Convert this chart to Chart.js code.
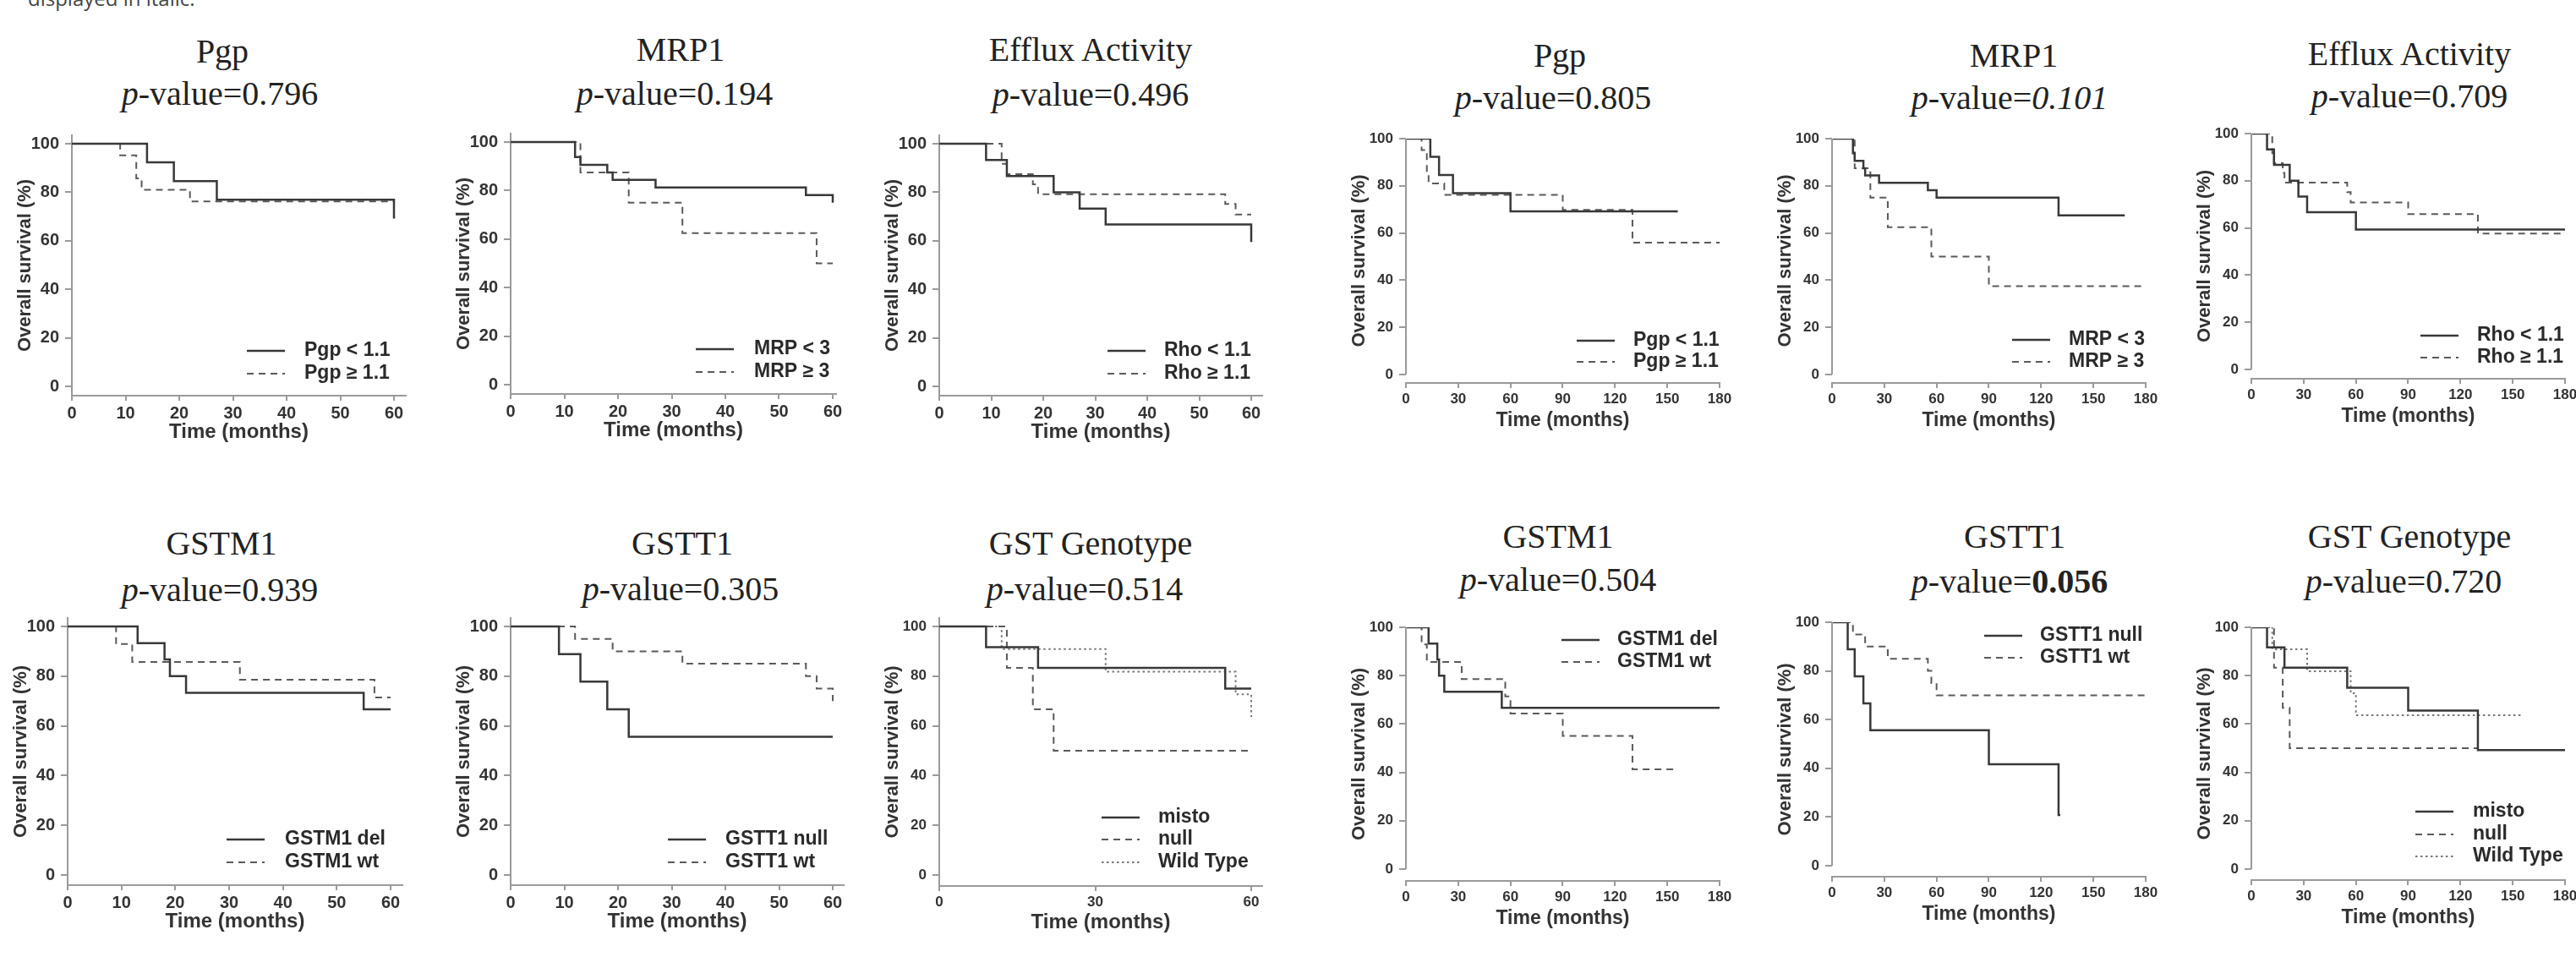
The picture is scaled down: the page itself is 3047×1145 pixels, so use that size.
<!DOCTYPE html>
<html>
<head>
<meta charset="utf-8">
<script src="https://cdn.jsdelivr.net/npm/chart.js@4.4.1/dist/chart.umd.min.js"></script>
<style>
  body { margin: 0; width: 3047px; height: 1145px; overflow: hidden; background: #fff; position: relative; }
  .ttl { position: absolute; font-family: "Liberation Serif", "Times New Roman", serif; font-size: 40px; line-height: 40px;
         color: #222; white-space: nowrap; transform: translateX(-50%); }
  .cut { position: absolute; left: 33px; top: -14px; font-family: "Open Sans", sans-serif; font-size: 24px; line-height: 24px; color: #444; }
</style>
</head>
<body>
<div class="cut">displayed in italic.</div>
<script>
// tick values
const yTicks = [0, 20, 40, 60, 80, 100];
const xTicks60 = [0, 10, 20, 30, 40, 50, 60];
const xTicks60Coarse = [0, 30, 60];
const xTicks180 = [0, 30, 60, 90, 120, 150, 180];

// titles and p-values, row by row
const titles = ['Pgp', 'MRP1', 'Efflux Activity', 'Pgp', 'MRP1', 'Efflux Activity',
                'GSTM1', 'GSTT1', 'GST Genotype', 'GSTM1', 'GSTT1', 'GST Genotype'];
const pValues = ['0.796', '0.194', '0.496', '0.805', '0.101', '0.709',
                 '0.939', '0.305', '0.514', '0.504', '0.056', '0.720'];

// legend labels
const pgpLabels = ['Pgp < 1.1', 'Pgp \u2265 1.1'];
const mrpLabels = ['MRP < 3', 'MRP \u2265 3'];
const rhoLabels = ['Rho < 1.1', 'Rho \u2265 1.1'];
const gstmLabels = ['GSTM1 del', 'GSTM1 wt'];
const gsttLabels = ['GSTT1 null', 'GSTT1 wt'];
const gstLabels = ['misto', 'null', 'Wild Type'];

// survival curves: [month, overall survival %]
const pgp60Low = [[0, 100], [14, 92.3], [19, 84.6], [27, 76.9], [60, 76.9], [60, 69.2]];
const pgp60High = [[0, 100], [9, 95.2], [12, 85.7], [13, 81], [22, 76.2], [60, 76.2]];
const mrp60Low = [[0, 100], [12, 93.8], [13, 90.6], [18, 87.5], [19, 84.4], [27, 81.3], [55, 78.1], [60, 78.1], [60, 75]];
const mrp60High = [[0, 100], [13, 87.5], [22, 75], [32, 62.5], [57, 50], [60, 50]];
const rho60Low = [[0, 100], [9, 93.3], [13, 86.7], [22, 80], [27, 73.3], [32, 66.7], [60, 66.7], [60, 59.5]];
const rho60High = [[0, 100], [12, 91.7], [13, 87.5], [18, 83.3], [19, 79.2], [55, 75.2], [57, 70.8], [60, 70.8]];

const pgp180Low = [[0, 100], [14, 92.3], [19, 84.6], [27, 76.9], [60, 69.2], [156, 69.2]];
const pgp180High = [[0, 100], [9, 95.2], [12, 85.7], [13, 81], [22, 76.2], [90, 69.8], [130, 55.9], [180, 55.9]];
const mrp180Low = [[0, 100], [12, 93.8], [13, 90.6], [18, 87.5], [19, 84.4], [27, 81.3], [55, 78.1], [60, 75], [130, 67.5], [168, 67.5]];
const mrp180High = [[0, 100], [13, 87.5], [22, 75], [32, 62.5], [57, 50], [90, 37.5], [178, 37.5]];
const rho180Low = [[0, 100], [9, 93.3], [13, 86.7], [22, 80], [27, 73.3], [32, 66.7], [60, 59.3], [180, 59.3]];
const rho180High = [[0, 100], [12, 91.7], [13, 87.5], [18, 83.3], [19, 79.2], [55, 75.2], [57, 70.8], [90, 65.9], [130, 57.6], [180, 57.6]];

const gstm60Del = [[0, 100], [13, 93.3], [18, 86.7], [19, 80], [22, 73.3], [55, 66.7], [60, 66.7]];
const gstm60Wt = [[0, 100], [9, 92.9], [12, 85.7], [32, 78.6], [57, 71.4], [60, 71.4]];
const gstt60Null = [[0, 100], [9, 88.9], [13, 77.8], [18, 66.7], [22, 55.6], [60, 55.6]];
const gstt60Wt = [[0, 100], [12, 95], [19, 90], [32, 85], [55, 80], [57, 75], [60, 75], [60, 70]];
const gst60Misto = [[0, 100], [9, 91.7], [19, 83.3], [55, 75], [60, 75]];
const gst60Null = [[0, 100], [13, 83.3], [18, 66.7], [22, 50], [60, 50]];
const gst60Wild = [[0, 100], [12, 90.9], [32, 81.8], [57, 72.7], [60, 72.7], [60, 63.6]];

const gstm180Del = [[0, 100], [13, 93.3], [18, 86.7], [19, 80], [22, 73.3], [55, 66.7], [180, 66.7]];
const gstm180Wt = [[0, 100], [9, 92.9], [12, 85.7], [32, 78.6], [57, 71.4], [60, 64.3], [90, 55.1], [130, 41.3], [156, 41.3]];
const gstt180Null = [[0, 100], [9, 88.9], [13, 77.8], [18, 66.7], [22, 55.6], [90, 41.7], [130, 20.8], [131, 20.8]];
const gstt180Wt = [[0, 100], [12, 95], [19, 90], [32, 85], [55, 80], [57, 75], [60, 70], [180, 70]];
const gst180Misto = [[0, 100], [9, 91.7], [19, 83.3], [55, 75], [90, 65.6], [130, 49.2], [180, 49.2]];
const gst180Null = [[0, 100], [13, 83.3], [18, 66.7], [22, 50], [130, 50]];
const gst180Wild = [[0, 100], [12, 90.9], [32, 81.8], [57, 72.7], [60, 63.6], [156, 63.6]];

const lineStyles = {
    solid: { color: '#383838', width: 2.5, dash: [] },
    dash: { color: '#5a5a5a', width: 2, dash: [8, 6] },
    dot: { color: '#777', width: 2, dash: [2.5, 3.5] }
};

// page layout of each panel (pixels)
const panels = [
    { tb: 74, tx: 263, pb: 124, px: 260, x0: 85, xEnd: 466, xLineEnd: 480, xt: xTicks60, y100: 170, y0: 457, axisY: 468, yTop: 160, tick: 20, xTitle: 24,
      series: [pgp60Low, pgp60High], labels: pgpLabels, styles: ['solid', 'dash'], legend: { lineX: 292, textX: 360, rows: [415, 442] } },
    { tb: 72, tx: 805, pb: 124, px: 798, x0: 604, xEnd: 985, xLineEnd: 989, xt: xTicks60, y100: 168, y0: 455, axisY: 466, yTop: 158, tick: 20, xTitle: 24,
      series: [mrp60Low, mrp60High], labels: mrpLabels, styles: ['solid', 'dash'], legend: { lineX: 823, textX: 892, rows: [413, 440] } },
    { tb: 72, tx: 1290, pb: 125, px: 1290, x0: 1111, xEnd: 1480, xLineEnd: 1493, xt: xTicks60, y100: 170, y0: 457, axisY: 468, yTop: 160, tick: 20, xTitle: 24,
      series: [rho60Low, rho60High], labels: rhoLabels, styles: ['solid', 'dash'], legend: { lineX: 1310, textX: 1377, rows: [415, 442] } },
    { tb: 79, tx: 1845, pb: 129, px: 1837, x0: 1663, xEnd: 2034, xLineEnd: 2034, xt: xTicks180, y100: 164, y0: 443, axisY: 453, yTop: 164, tick: 17, xTitle: 23, detached: true,
      series: [pgp180Low, pgp180High], labels: pgpLabels, styles: ['solid', 'dash'], legend: { lineX: 1865, textX: 1932, rows: [403, 428] } },
    { tb: 79, tx: 2382, pb: 129, px: 2377, x0: 2167, xEnd: 2538, xLineEnd: 2538, xt: xTicks180, y100: 164, y0: 443, axisY: 453, yTop: 164, tick: 17, xTitle: 23, detached: true,
      series: [mrp180Low, mrp180High], labels: mrpLabels, styles: ['solid', 'dash'], legend: { lineX: 2380, textX: 2447, rows: [402, 428] }, pvStyle: 'i' },
    { tb: 77, tx: 2850, pb: 127, px: 2850, x0: 2663, xEnd: 3034, xLineEnd: 3034, xt: xTicks180, y100: 158, y0: 437, axisY: 448, yTop: 158, tick: 17, xTitle: 23, detached: true,
      series: [rho180Low, rho180High], labels: rhoLabels, styles: ['solid', 'dash'], legend: { lineX: 2863, textX: 2930, rows: [397, 423] } },

    { tb: 656, tx: 262, pb: 711, px: 260, x0: 80, xEnd: 462, xLineEnd: 476, xt: xTicks60, y100: 741, y0: 1035, axisY: 1047, yTop: 731, tick: 20, xTitle: 24,
      series: [gstm60Del, gstm60Wt], labels: gstmLabels, styles: ['solid', 'dash'], legend: { lineX: 268, textX: 337, rows: [993, 1020] } },
    { tb: 656, tx: 807, pb: 710, px: 805, x0: 604, xEnd: 985, xLineEnd: 998, xt: xTicks60, y100: 741, y0: 1035, axisY: 1047, yTop: 731, tick: 20, xTitle: 24,
      series: [gstt60Null, gstt60Wt], labels: gsttLabels, styles: ['solid', 'dash'], legend: { lineX: 790, textX: 858, rows: [993, 1020] } },
    { tb: 656, tx: 1290, pb: 710, px: 1283, x0: 1111, xEnd: 1480, xLineEnd: 1493, xt: xTicks60Coarse, y100: 741, y0: 1035, axisY: 1048, yTop: 731, tick: 17, xTitle: 24,
      series: [gst60Misto, gst60Null, gst60Wild], labels: gstLabels, styles: ['solid', 'dash', 'dot'], legend: { lineX: 1303, textX: 1370, rows: [967, 993, 1020] } },
    { tb: 648, tx: 1843, pb: 699, px: 1843, x0: 1663, xEnd: 2034, xLineEnd: 2034, xt: xTicks180, y100: 742, y0: 1028, axisY: 1042, yTop: 742, tick: 17, xTitle: 23, detached: true,
      series: [gstm180Del, gstm180Wt], labels: gstmLabels, styles: ['solid', 'dash'], legend: { lineX: 1847, textX: 1913, rows: [757, 783] } },
    { tb: 648, tx: 2383, pb: 701, px: 2377, x0: 2167, xEnd: 2538, xLineEnd: 2538, xt: xTicks180, y100: 736, y0: 1024, axisY: 1037, yTop: 736, tick: 17, xTitle: 23, detached: true,
      series: [gstt180Null, gstt180Wt], labels: gsttLabels, styles: ['solid', 'dash'], legend: { lineX: 2347, textX: 2413, rows: [752, 778] }, pvStyle: 'b' },
    { tb: 648, tx: 2850, pb: 701, px: 2843, x0: 2663, xEnd: 3034, xLineEnd: 3034, xt: xTicks180, y100: 742, y0: 1028, axisY: 1041, yTop: 742, tick: 17, xTitle: 23, detached: true,
      series: [gst180Misto, gst180Null, gst180Wild], labels: gstLabels, styles: ['solid', 'dash', 'dot'], legend: { lineX: 2857, textX: 2925, rows: [960, 987, 1013] } }
];

// draws the legend inside the plot, plus the short y axis line of the detached panels
const kmLegend = {
    id: 'kmLegend',
    afterDatasetsDraw(chart, args, opts) {
        const ctx = chart.ctx;
        ctx.save();
        if (opts.detached) {
            const y = chart.scales.y;
            ctx.strokeStyle = '#9a9a9a';
            ctx.lineWidth = 2;
            ctx.beginPath();
            ctx.moveTo(chart.chartArea.left, y.getPixelForValue(100));
            ctx.lineTo(chart.chartArea.left, y.getPixelForValue(0));
            ctx.stroke();
        }
        ctx.font = 'bold 23px "Liberation Sans", Arial, sans-serif';
        ctx.textBaseline = 'middle';
        chart.data.datasets.forEach((ds, i) => {
            const y = opts.rows[i];
            ctx.strokeStyle = ds.borderColor;
            ctx.lineWidth = ds.borderWidth;
            ctx.setLineDash(ds.borderDash);
            ctx.beginPath();
            ctx.moveTo(opts.lineX, y);
            ctx.lineTo(opts.lineX + 45, y);
            ctx.stroke();
            ctx.setLineDash([]);
            ctx.fillStyle = '#2a2a2a';
            ctx.fillText(ds.label, opts.textX, y);
        });
        ctx.restore();
    }
};

function addText(html, cx, baseline) {
    const d = document.createElement('div');
    d.className = 'ttl';
    d.innerHTML = html;
    d.style.left = cx + 'px';
    d.style.top = (baseline - 33.5) + 'px';
    document.body.appendChild(d);
}

const Wy = 68, Hx = 58, padTop = 20, padRight = 30;
const sans = '"Liberation Sans", Arial, sans-serif';

panels.forEach((p, k) => {
    let val = pValues[k];
    if (p.pvStyle === 'i') val = '<i>' + val + '</i>';
    if (p.pvStyle === 'b') val = '<b>' + val + '</b>';
    addText(titles[k], p.tx, p.tb);
    addText('<i>p</i>-value=' + val, p.px, p.pb);

    const xMaxTick = p.xt[p.xt.length - 1];
    const pxX = (p.xEnd - p.x0) / xMaxTick;
    const pxY = (p.y0 - p.y100) / 100;
    const xMax = (p.xLineEnd - p.x0) / pxX;
    const yMax = (p.y0 - p.yTop) / pxY;
    const yMin = -(p.axisY - p.y0) / pxY;

    const left = p.x0 - Wy;
    const top = p.yTop - padTop;
    const w = Wy + (p.xLineEnd - p.x0) + padRight;
    const h = padTop + (p.axisY - p.yTop) + Hx;

    const canvas = document.createElement('canvas');
    canvas.width = w;
    canvas.height = h;
    canvas.style.cssText = `position:absolute;left:${left}px;top:${top}px;width:${w}px;height:${h}px`;
    document.body.appendChild(canvas);

    const datasets = p.series.map((s, i) => {
        const st = lineStyles[p.styles[i]];
        return {
            label: p.labels[i],
            data: s.map(pt => ({ x: pt[0], y: pt[1] })),
            borderColor: st.color,
            borderWidth: st.width,
            borderDash: st.dash,
            stepped: true,
            pointRadius: 0,
            fill: false
        };
    });

    const legendOpts = {
        detached: !!p.detached,
        lineX: p.legend.lineX - left,
        textX: p.legend.textX - left,
        rows: p.legend.rows.map(r => r - top)
    };

    new Chart(canvas, {
        type: 'line',
        data: { datasets },
        plugins: [kmLegend],
        options: {
            responsive: false,
            animation: false,
            layout: { padding: { top: padTop, right: padRight, left: 0, bottom: 0 } },
            plugins: {
                legend: { display: false },
                tooltip: { enabled: false },
                kmLegend: legendOpts
            },
            scales: {
                x: {
                    type: 'linear',
                    min: 0,
                    max: xMax,
                    afterBuildTicks: s => { s.ticks = p.xt.map(v => ({ value: v })); },
                    afterFit: s => { s.height = Hx; },
                    ticks: { color: '#333', font: { family: sans, size: p.tick, weight: 'bold' }, padding: 3, maxRotation: 0, autoSkip: false },
                    grid: { display: true, drawOnChartArea: false, drawTicks: true, tickLength: 6, color: '#9a9a9a', lineWidth: 2 },
                    border: { display: true, color: '#9a9a9a', width: 2 },
                    title: { display: true, text: 'Time (months)', color: '#333', padding: 0, font: { family: sans, size: p.xTitle, weight: 'bold' } }
                },
                y: {
                    type: 'linear',
                    min: yMin,
                    max: yMax,
                    afterBuildTicks: s => { s.ticks = yTicks.map(v => ({ value: v })); },
                    afterFit: s => { s.width = Wy; },
                    ticks: { color: '#333', font: { family: sans, size: p.tick, weight: 'bold' }, padding: 7 },
                    grid: { display: true, drawOnChartArea: false, drawTicks: true, tickLength: 8, color: '#9a9a9a', lineWidth: 2 },
                    border: { display: !p.detached, color: '#9a9a9a', width: 2 },
                    title: { display: true, text: 'Overall survival (%)', color: '#333', padding: 0, font: { family: sans, size: 22, weight: 'bold' } }
                }
            }
        }
    });
});
</script>
</body>
</html>
